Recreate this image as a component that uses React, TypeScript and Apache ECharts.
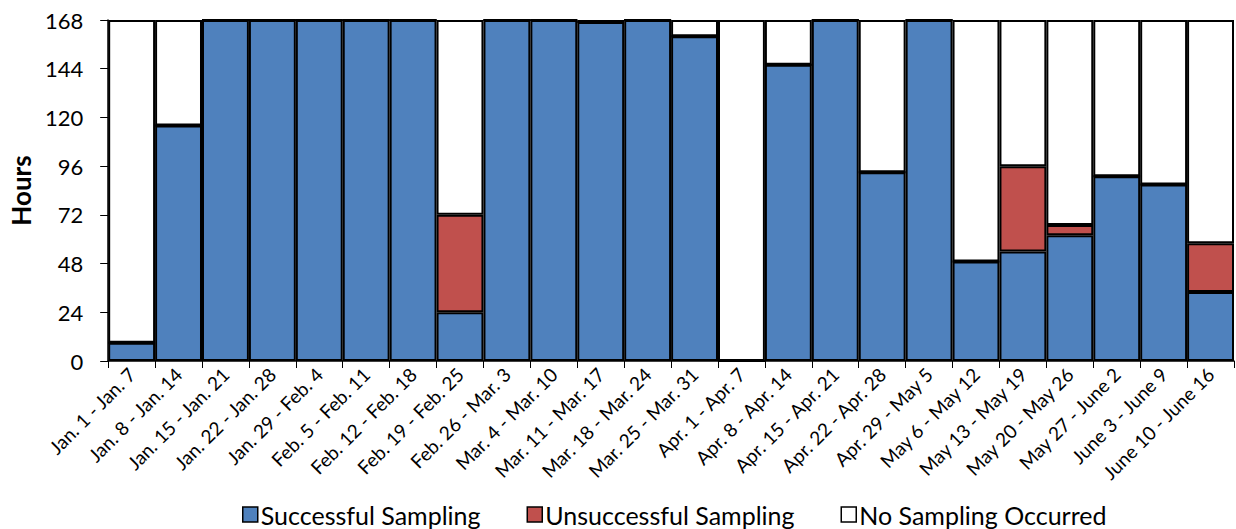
import React, { useEffect, useRef } from "react";
import * as echarts from "echarts";

const categories = [
  "Jan. 1 - Jan. 7", "Jan. 8 - Jan. 14", "Jan. 15 - Jan. 21", "Jan. 22 - Jan. 28",
  "Jan. 29 - Feb. 4", "Feb. 5 - Feb. 11", "Feb. 12 - Feb. 18", "Feb. 19 - Feb. 25",
  "Feb. 26 - Mar. 3", "Mar. 4 - Mar. 10", "Mar. 11 - Mar. 17", "Mar. 18 - Mar. 24",
  "Mar. 25 - Mar. 31", "Apr. 1 - Apr. 7", "Apr. 8 - Apr. 14", "Apr. 15 - Apr. 21",
  "Apr. 22 - Apr. 28", "Apr. 29 - May 5", "May 6 - May 12", "May 13 - May 19",
  "May 20 - May 26", "May 27 - June 2", "June 3 - June 9", "June 10 - June 16",
];

const successful = [9, 116, 168, 168, 168, 168, 168, 24, 168, 168, 167, 168, 160, 0, 146, 168, 93, 168, 49, 54, 62, 91, 87, 34];
const unsuccessful = [0, 0, 0, 0, 0, 0, 0, 48, 0, 0, 0, 0, 0, 0, 0, 0, 0, 0, 0, 42, 5, 0, 0, 24];
const HOURS_PER_WEEK = 168;
const noSampling = successful.map((s, i) => HOURS_PER_WEEK - s - unsuccessful[i]);

const yTicks = { min: 0, max: 168, interval: 24 };

const FONT = "Lato";

export default function App() {
  const ref = useRef<HTMLDivElement>(null);
  useEffect(() => {
    if (!ref.current) return;
    const chart = echarts.init(ref.current, undefined, { renderer: "svg" });
    const itemStyle = (color: string) => ({ color, borderColor: "#000", borderWidth: 2 });
    chart.setOption({
      animation: false,
      textStyle: { fontFamily: FONT, color: "#000" },
      grid: { left: 103, right: 2, top: 20, bottom: 168, containLabel: false },
      legend: {
        bottom: -3,
        left: 237,
        itemWidth: 15,
        itemHeight: 15,
        itemGap: 46,
        icon: "rect",
        itemStyle: { borderColor: "#000", borderWidth: 1.5 },
        textStyle: { fontSize: 25, color: "#000", fontFamily: FONT, padding: [0, 0, 0, -2] },
        data: ["Successful Sampling", "Unsuccessful Sampling", "No Sampling Occurred"],
      },
      xAxis: {
        type: "category",
        data: categories,
        axisLine: { lineStyle: { color: "#000", width: 1.5 } },
        axisTick: { show: true, interval: 0, length: 7, lineStyle: { color: "#000" } },
        axisLabel: { interval: 0, rotate: 45, fontSize: 19, color: "#000", margin: 10, fontFamily: FONT },
      },
      yAxis: {
        type: "value",
        min: yTicks.min,
        max: yTicks.max,
        interval: yTicks.interval,
        name: "Hours",
        nameLocation: "middle",
        nameGap: 73,
        nameTextStyle: { fontSize: 26, fontWeight: "bold", color: "#000", fontFamily: FONT },
        axisLine: { show: true, lineStyle: { color: "#000", width: 1.5 } },
        axisTick: { show: true, length: 8, lineStyle: { color: "#000" } },
        axisLabel: { fontSize: 22, color: "#000", margin: 25, fontFamily: FONT },
        splitLine: { show: false },
      },
      series: [
        { name: "Successful Sampling", type: "bar", stack: "h", data: successful, barCategoryGap: "0%", itemStyle: itemStyle("#4F81BD") },
        { name: "Unsuccessful Sampling", type: "bar", stack: "h", data: unsuccessful, barCategoryGap: "0%", itemStyle: itemStyle("#C0504D") },
        { name: "No Sampling Occurred", type: "bar", stack: "h", data: noSampling, barCategoryGap: "0%", itemStyle: itemStyle("#FFFFFF") },
      ],
    });
    return () => chart.dispose();
  }, []);
  return <div ref={ref} style={{ position: "absolute", left: 0, top: 0, width: 1236, height: 529 }} />;
}
